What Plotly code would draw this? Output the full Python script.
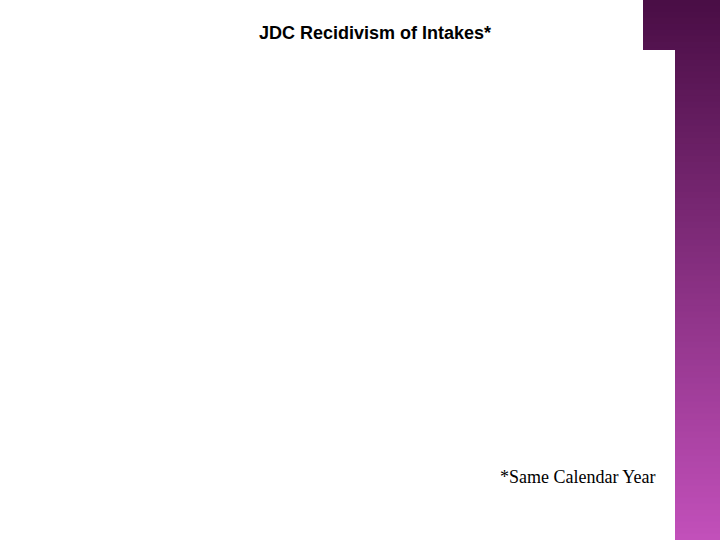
import plotly.graph_objects as go

# chart text (the slide has no plotted data)
title_text = "JDC Recidivism of Intakes*"
footnote_text = "*Same Calendar Year"

# sidebar gradient stops (top -> bottom)
grad_top = (74, 14, 70)
grad_bottom = (194, 80, 186)

W, H = 720, 540

fig = go.Figure()

shapes = []
n = 90
for i in range(n):
    t = i / (n - 1)
    r = int(grad_top[0] + (grad_bottom[0] - grad_top[0]) * t)
    g = int(grad_top[1] + (grad_bottom[1] - grad_top[1]) * t)
    b = int(grad_top[2] + (grad_bottom[2] - grad_top[2]) * t)
    y0 = H - H * i / n
    y1 = H - H * (i + 1) / n
    shapes.append(dict(type="rect", xref="x", yref="y", x0=675, x1=720,
                       y0=y1 - 0.5, y1=y0 + 0.5, fillcolor=f"rgb({r},{g},{b})",
                       line=dict(width=0), layer="below"))
    if y0 > H - 50:
        shapes.append(dict(type="rect", xref="x", yref="y", x0=643, x1=675,
                           y0=max(y1 - 0.5, H - 50), y1=y0 + 0.5,
                           fillcolor=f"rgb({r},{g},{b})",
                           line=dict(width=0), layer="below"))

fig.add_annotation(x=375, y=H - 33, xref="x", yref="y", text="<b>" + title_text + "</b>",
                   showarrow=False, font=dict(family="Liberation Sans, Arial", size=18, color="black"))
fig.add_annotation(x=657, y=H - 477, xref="x", yref="y", text=footnote_text, xanchor="right",
                   showarrow=False, font=dict(family="Liberation Serif, Times New Roman", size=18, color="black"))

fig.update_layout(
    width=W, height=H,
    margin=dict(l=0, r=0, t=0, b=0),
    paper_bgcolor="white", plot_bgcolor="white",
    shapes=shapes,
    showlegend=False,
    xaxis=dict(range=[0, W], visible=False, fixedrange=True),
    yaxis=dict(range=[0, H], visible=False, fixedrange=True),
)

fig.write_html("out.html", config={"displayModeBar": False},
               post_script="document.body.style.margin='0';document.body.style.overflow='hidden';")
